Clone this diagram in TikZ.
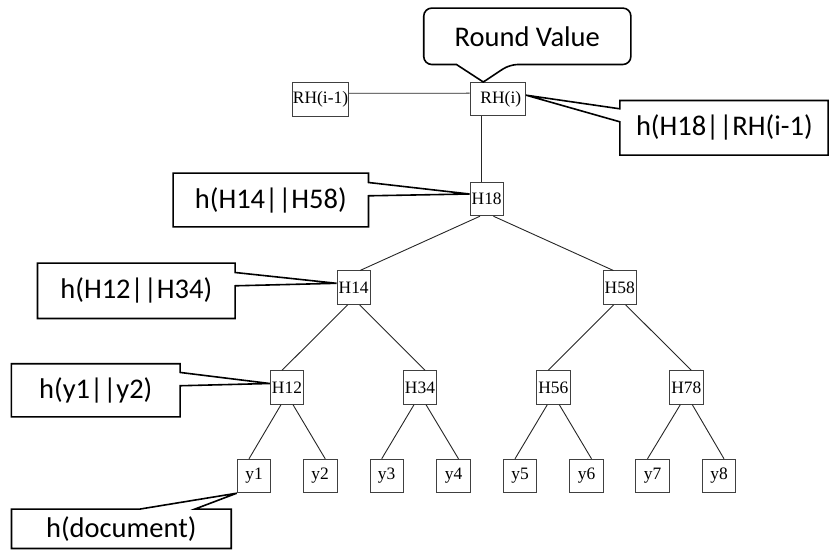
\documentclass[tikz,border=0pt]{standalone}
\usepackage{fontspec}
\setmainfont{Liberation Serif}
\newfontfamily\callfont{Carlito}
\usetikzlibrary{calc}
\begin{document}
\begin{tikzpicture}[x=1bp,y=-1bp,
  treenode/.style={draw=black!75, line width=0.9bp, minimum width=33.5bp,
    minimum height=33.5bp, inner sep=0.5bp, font=\fontsize{17.5}{19}\selectfont},
  widenode/.style={treenode, minimum width=55.7bp},
  link/.style={draw=black!85, line width=0.9bp},
  calltext/.style={inner sep=0pt, font=\callfont\fontsize{28.6}{32}\selectfont},
  callline/.style={draw=black, line width=1.6bp, line join=miter}
]
\useasboundingbox (0,0) rectangle (829,550);

% round hashes
\node[widenode] (RHprev) at (320.5,99.3) {RH(i-1)};
\node[widenode, text width=46.7bp, align=right, inner xsep=4.5bp] (RHi) at (497.8,99.2) {RH(i)};

% Merkle tree
\node[treenode] (H18) at (486.7,199) {H18};
\node[treenode] (H14) at (353.7,287.7) {H14};
\node[treenode] (H58) at (619.7,287.7) {H58};
\node[treenode] (H12) at (287,387.5) {H12};
\node[treenode] (H34) at (420,387.5) {H34};
\node[treenode] (H56) at (553.3,387.5) {H56};
\node[treenode] (H78) at (686.3,387.5) {H78};
\foreach \name/\xpos in {y1/254, y2/320.2, y3/386.7, y4/453.5,
                         y5/520, y6/586.5, y7/652.5, y8/719}
  \node[treenode] (\name) at (\xpos,476) {\name};

% links
\draw[link] ([yshift=6bp]RHprev.east) -- ([yshift=6bp]RHi.west);
\draw[link] ([xshift=-5.7bp]H18.north) -- ([xshift=-5.7bp]H18.north |- RHi.south);
\draw[link] ([xshift=-6.7bp]H18.south) -- ([xshift=6.3bp]H14.north);
\draw[link] ([xshift=6.7bp]H18.south) -- ([xshift=-6.3bp]H58.north);
\foreach \p/\l/\r in {H14/H12/H34, H58/H56/H78, H12/y1/y2, H34/y3/y4, H56/y5/y6, H78/y7/y8}{
  \draw[link] ([xshift=-6bp]\p.south) -- ([xshift=-5bp]\l.north);
  \draw[link] ([xshift=6bp]\p.south) -- ([xshift=5bp]\r.north);
}

% callouts
\node[calltext, minimum width=206.7bp, minimum height=56bp] (ca) at (527.3,36.3) {Round Value};
\draw[callline] ($(ca.south west)+(32.7,0)$) [rounded corners=8bp] -- (ca.south west)
  -- (ca.north west) -- (ca.north east) -- (ca.south east)
  -- ($(ca.south west)+(86,0)$) [sharp corners] -- ([xshift=-14.5bp]RHi.north) -- cycle;

\node[calltext, text width=176bp, align=left, inner xsep=16bp, minimum height=54.3bp] (cb) at (724,127.85) {\mbox{h(H18||RH(i-1)}};
\draw[callline] (cb.north west) -- (cb.north east) -- (cb.south east) -- (cb.south west)
  -- ($(cb.north west)+(0,21.3)$) -- ([yshift=4bp]RHi.east)
  -- ($(cb.north west)+(0,8.3)$) -- cycle;

\node[calltext, minimum width=195bp, minimum height=53.4bp] (cc) at (270.8,200) {h(H14||H58)};
\draw[callline] (cc.north west) -- (cc.north east) -- ($(cc.north east)+(0,9.4)$)
  -- ([yshift=5bp]H18.west) -- ($(cc.north east)+(0,22.7)$)
  -- (cc.south east) -- (cc.south west) -- cycle;

\node[calltext, minimum width=197.3bp, minimum height=55bp] (cd) at (136.3,290.8) {h(H12||H34)};
\draw[callline] (cd.north west) -- (cd.north east) -- ($(cd.north east)+(0,9.4)$)
  -- ([yshift=4.4bp]H14.west) -- ($(cd.north east)+(0,22.7)$)
  -- (cd.south east) -- (cd.south west) -- cycle;

\node[calltext, minimum width=168.3bp, minimum height=52.7bp] (ce) at (95.8,390.3) {h(y1||y2)};
\draw[callline] (ce.north west) -- (ce.north east) -- ($(ce.north east)+(0,8.7)$)
  -- ([yshift=4bp]H12.west) -- ($(ce.north east)+(0,22)$)
  -- (ce.south east) -- (ce.south west) -- cycle;

\node[calltext, minimum width=219.3bp, minimum height=39bp] (cf) at (121.35,528.8) {h(document)};
\draw[callline] (cf.north west) -- ($(cf.north west)+(128.3,0)$) -- (y1.south west)
  -- ($(cf.north west)+(183.3,0)$) -- (cf.north east) -- (cf.south east)
  -- (cf.south west) -- cycle;
\end{tikzpicture}
\end{document}
